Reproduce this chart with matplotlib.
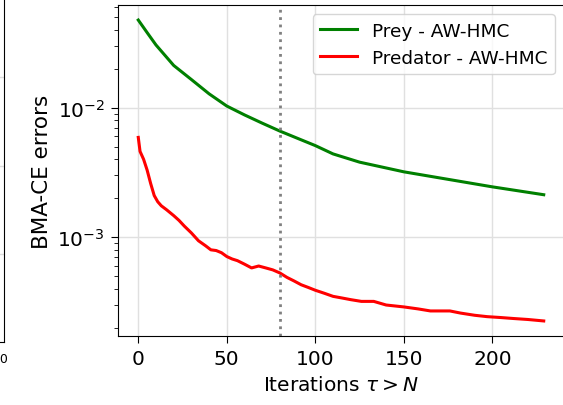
import numpy as np
import matplotlib
matplotlib.use('Agg')
import matplotlib.pyplot as plt

# iterations and BMA-CE errors
prey_x = [0, 5, 10, 20, 30, 40, 50, 60, 70, 80, 90, 100, 110, 125, 150, 175, 200, 229]
prey_err = [0.0475, 0.038, 0.0305, 0.0212, 0.0165, 0.0128, 0.0103, 0.0088, 0.0076,
            0.0066, 0.0058, 0.0051, 0.0044, 0.0038, 0.0032, 0.0028, 0.00245, 0.00213]

pred_x = [0, 1, 3, 5, 7, 9, 11, 13, 16, 20, 23, 26, 30, 34, 38, 41, 44, 47, 50, 53,
          56, 60, 64, 68, 72, 76, 80, 84, 88, 92, 96, 100, 105, 110, 115, 120, 126,
          133, 140, 150, 158, 165, 170, 176, 182, 190, 197, 205, 212, 220, 229]
pred_err = [0.0059, 0.0046, 0.0040, 0.0033, 0.0026, 0.0021, 0.00188, 0.00175, 0.00163,
            0.00147, 0.00135, 0.00122, 0.00108, 0.00094, 0.00086, 0.00080, 0.00079,
            0.00076, 0.00071, 0.00068, 0.00066, 0.00062, 0.00058, 0.00060, 0.00058,
            0.00056, 0.00053, 0.00049, 0.00046, 0.00043, 0.00041, 0.00039, 0.00037,
            0.00035, 0.00034, 0.00033, 0.00032, 0.00032, 0.00030, 0.00029, 0.00028,
            0.00027, 0.00027, 0.00027, 0.00026, 0.00025, 0.000244, 0.00024, 0.000236,
            0.000232, 0.000226]

burn_in = 80

W, H = 563, 406
fig = plt.figure(figsize=(W / 100, H / 100), dpi=100)

# cropped neighbour panel on the far left (only its right edge shows)
axl = fig.add_axes([-0.4, 1 - 343 / H, 0.4 + 4 / W, 343 / H + 0.1])
axl.set_xlim(0, 200)
axl.set_ylim(343, 343 - 0.945 * H)
axl.set_yticks([78, 167, 255])
axl.set_yticklabels([])
axl.tick_params(axis='y', length=0)
axl.set_xticks([193])
axl.set_xticklabels(['200'], fontsize=9)
axl.grid(True, axis='y', color='#dddddd', lw=1)
for s in ['left', 'top']:
    axl.spines[s].set_visible(False)

ax = fig.add_axes([118 / W, 1 - 337 / H, 446 / W, 331 / H])
ax.plot(prey_x, prey_err, color='green', lw=2.2, label='Prey - AW-HMC')
ax.plot(pred_x, pred_err, color='red', lw=2.2, label='Predator - AW-HMC')
ax.axvline(burn_in, color='gray', ls=':', lw=2)
ax.set_yscale('log')
ax.grid(True, color='#e0e0e0', lw=1)
ax.set_axisbelow(True)
ax.set_xticks([0, 50, 100, 150, 200])
ax.tick_params(which='major', labelsize=14.5, length=5, pad=4.5)
ax.tick_params(which='minor', length=3)
ax.set_xlabel(r'Iterations $\tau > N$', fontsize=14.5, labelpad=5)
ax.set_ylabel('BMA-CE errors', fontsize=15.5)
ax.legend(loc='upper right', fontsize=13.3)

fig.savefig('out.png', dpi=100)
